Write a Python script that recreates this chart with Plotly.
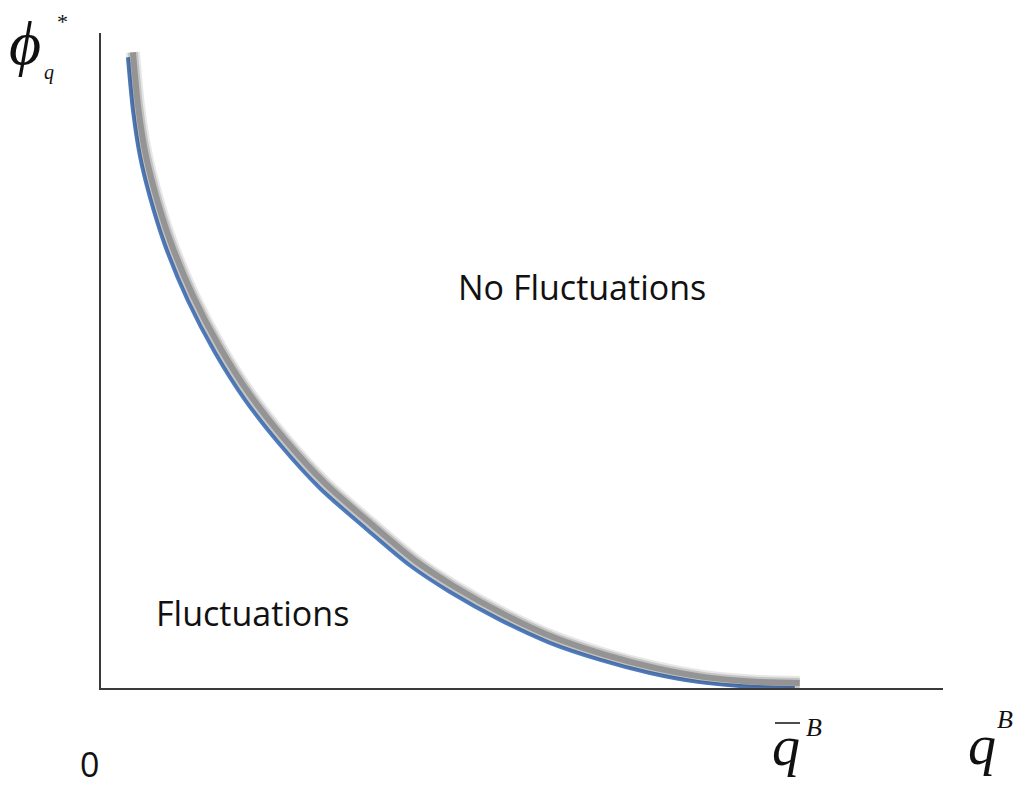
import plotly.graph_objects as go

# Curve (data units: x 0..10, y 0..10)
q_vals = [0.32, 0.38, 0.46, 0.58, 0.76, 1.03, 1.35, 1.71, 2.13, 2.60, 3.14, 3.67,
          4.14, 4.74, 5.33, 5.93, 6.52, 7.11, 7.71, 8.24]
phi_vals = [9.63, 8.82, 8.14, 7.50, 6.76, 5.92, 5.13, 4.40, 3.71, 3.05, 2.44, 1.87,
            1.47, 1.04, 0.69, 0.43, 0.23, 0.09, 0.02, 0.00]

X_RANGE = [0, 10]
Y_RANGE = [0, 10]

OFF = 8  # page body margin of the browser
W, H = 1024 - OFF, 788 - OFF
L, R, T, B = 101 - OFF, 81, 33 - OFF, 100
PW, PH = W - L - R, H - T - B

def px(x):
    return (x - OFF - L) / PW

def py(y):
    return (H - B - (y - OFF)) / PH

fig = go.Figure()

# shadow: same data drawn on overlaid axes shifted a few pixels right/up
sx, sy = 5, 5
x_per_px = (X_RANGE[1] - X_RANGE[0]) / PW
y_per_px = (Y_RANGE[1] - Y_RANGE[0]) / PH
for w, a in [(14, 0.12), (10, 0.20), (6, 0.35)]:
    fig.add_trace(go.Scatter(
        x=q_vals, y=phi_vals, mode="lines", xaxis="x2", yaxis="y2",
        line=dict(color=f"rgba(60,60,60,{a})", width=w, shape="spline", smoothing=0.8),
        hoverinfo="skip", showlegend=False))

fig.add_trace(go.Scatter(
    x=q_vals, y=phi_vals, mode="lines",
    line=dict(color="#4F7DC0", width=4, shape="spline", smoothing=0.8),
    showlegend=False))

serif = "Liberation Serif"
sans = "Open Sans"
txt = "#111111"

annotations = [
    dict(text="No Fluctuations", x=px(582), y=py(287), font=dict(family=sans, size=34, color=txt)),
    dict(text="Fluctuations", x=px(252), y=py(613), font=dict(family=sans, size=34, color=txt)),
    dict(text="0", x=px(89), y=py(764), font=dict(family=sans, size=34, color=txt)),
    dict(text="<i>ϕ</i>", x=px(25), y=py(43), font=dict(family=serif, size=62, color=txt)),
    dict(text="<i>q</i>", x=px(49), y=py(72), font=dict(family=serif, size=20, color=txt)),
    dict(text="*", x=px(62), y=py(22), font=dict(family=serif, size=22, color=txt)),
    dict(text="<i>q</i>", x=px(786), y=py(746), font=dict(family=serif, size=56, color=txt)),
    dict(text="<i>B</i>", x=px(814), y=py(727), font=dict(family=serif, size=26, color=txt)),
    dict(text="<i>q</i>", x=px(982), y=py(745), font=dict(family=serif, size=56, color=txt)),
    dict(text="<i>B</i>", x=px(1005), y=py(719), font=dict(family=serif, size=26, color=txt)),
]
for a in annotations:
    a.update(xref="paper", yref="paper", showarrow=False, xanchor="center", yanchor="middle")

fig.update_layout(
    width=W, height=H,
    margin=dict(l=L, r=R, t=T, b=B),
    paper_bgcolor="white", plot_bgcolor="white",
    xaxis=dict(range=X_RANGE, showline=True, linecolor="#3a3a3a", linewidth=2,
               showgrid=False, zeroline=False, showticklabels=False, ticks=""),
    yaxis=dict(range=Y_RANGE, showline=True, linecolor="#3a3a3a", linewidth=2,
               showgrid=False, zeroline=False, showticklabels=False, ticks=""),
    xaxis2=dict(range=[X_RANGE[0] - sx * x_per_px, X_RANGE[1] - sx * x_per_px],
                overlaying="x", visible=False),
    yaxis2=dict(range=[Y_RANGE[0] - sy * y_per_px, Y_RANGE[1] - sy * y_per_px],
                overlaying="y", visible=False),
    annotations=annotations,
    shapes=[dict(type="line", xref="paper", yref="paper",
                 x0=px(775), x1=px(800), y0=py(723), y1=py(723),
                 line=dict(color=txt, width=1.5))],
)

fig.write_html("out.html")
